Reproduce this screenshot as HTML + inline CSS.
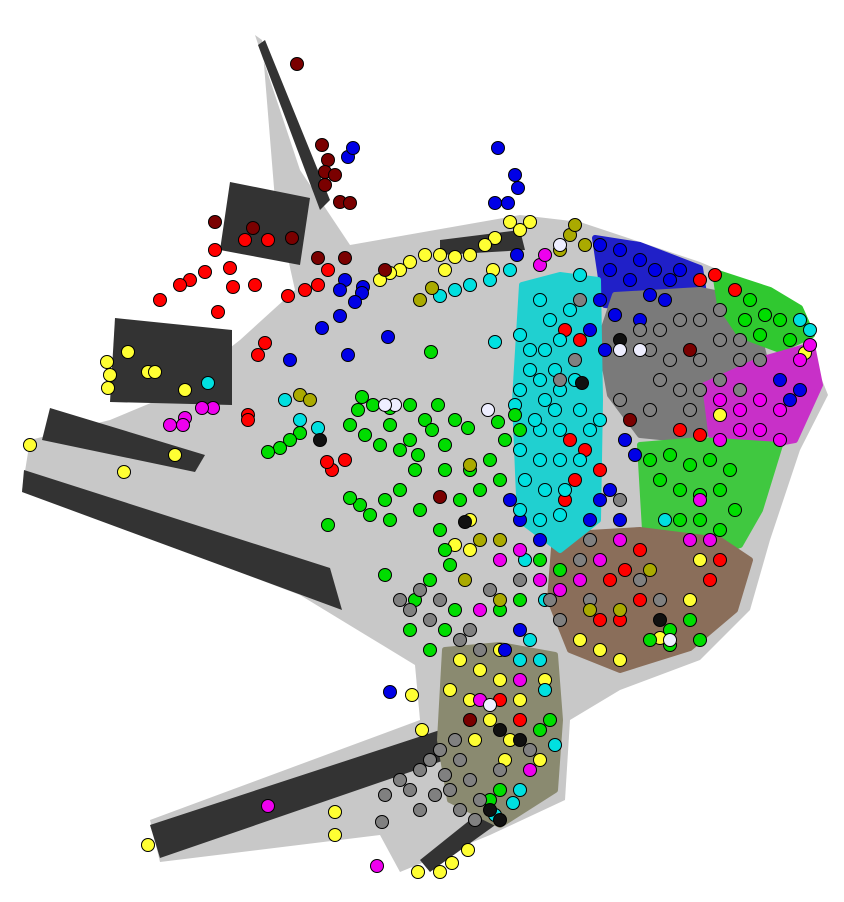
<!DOCTYPE html>
<html><head><meta charset="utf-8"><title>Network graph</title>
<style>html,body{margin:0;padding:0;background:#fff}svg{display:block}</style></head>
<body>
<svg id="chart" width="844" height="902" viewBox="0 0 844 902" xmlns="http://www.w3.org/2000/svg">
<g id="bg">
<polygon fill="#c8c8c8" points="255,35 300,170 350,245 520,215 580,222 700,262 790,300 828,395 800,450 770,540 750,610 700,660 620,690 570,720 565,800 490,835 400,872 380,835 160,862 150,820 420,720 415,665 300,595 22,490 30,440 110,420 170,395 240,340 295,290 275,200 262,40"/>
<polygon fill="#333" points="230,182 310,198 300,265 220,250"/>
<polygon fill="#333" points="115,318 232,330 232,405 110,402"/>
<polygon fill="#333" points="50,408 205,455 195,472 42,440"/>
<polygon fill="#333" points="24,470 330,568 342,610 22,492"/>
<polygon fill="#333" points="150,825 440,730 445,760 160,858"/>
<polygon fill="#333" points="265,40 330,200 320,210 258,45"/>
<polygon fill="#333" points="420,860 520,780 530,800 430,872"/>
<polygon fill="#333" points="440,240 520,230 525,250 440,255"/>
</g>
<g id="patches"></g>
<g id="nodes"></g>
</svg>
<script>
const yellowNodes=[[510,222],[530,222],[495,238],[485,245],[470,255],[455,257],[440,255],[425,255],[410,262],[400,270],[390,273],[380,280],[445,270],[493,270],[520,230],[107,362],[110,375],[108,388],[128,352],[148,372],[155,372],[185,390],[30,445],[124,472],[175,455],[412,695],[422,730],[335,812],[335,835],[148,845],[418,872],[440,872],[452,863],[468,850],[805,353],[720,415],[660,638],[470,520],[460,660],[480,670],[500,680],[470,700],[520,700],[545,680],[500,650],[490,720],[510,740],[540,760],[600,650],[580,640],[620,660],[450,690],[475,740],[505,760],[700,560],[690,600],[470,550],[455,545]];
const redNodes=[[215,250],[245,240],[268,240],[230,268],[205,272],[190,280],[180,285],[160,300],[255,285],[233,287],[218,312],[265,343],[258,355],[288,296],[328,270],[318,285],[305,290],[248,415],[248,420],[345,460],[332,470],[327,462],[565,330],[580,340],[570,440],[585,450],[600,470],[575,480],[565,500],[610,580],[625,570],[640,550],[600,620],[620,620],[700,280],[715,275],[735,290],[680,430],[700,435],[720,560],[710,580],[500,700],[520,720],[640,600]];
const maroonNodes=[[297,64],[322,145],[328,160],[325,172],[335,175],[325,185],[340,202],[350,203],[345,258],[385,270],[440,497],[215,222],[253,228],[292,238],[318,258],[690,350],[630,420],[470,720]];
const blueNodes=[[498,148],[515,175],[518,188],[508,203],[495,203],[348,157],[353,148],[345,280],[363,287],[362,293],[340,290],[355,302],[322,328],[340,316],[348,355],[290,360],[388,337],[390,692],[517,255],[600,245],[620,250],[640,260],[655,270],[670,280],[610,270],[630,280],[650,295],[600,300],[615,315],[640,320],[665,300],[680,270],[590,330],[605,350],[625,440],[635,455],[610,490],[620,520],[600,500],[590,520],[520,520],[540,540],[510,500],[790,400],[780,380],[800,390],[520,630],[505,650]];
const cyanNodes=[[440,296],[455,290],[470,285],[490,280],[510,270],[495,342],[520,335],[540,300],[550,320],[530,350],[545,350],[560,340],[570,310],[580,275],[540,380],[520,390],[515,405],[545,400],[560,390],[575,380],[580,410],[590,430],[560,430],[540,430],[520,450],[540,460],[560,460],[580,460],[525,480],[545,490],[565,490],[520,510],[540,520],[560,515],[600,420],[525,560],[545,600],[530,640],[520,660],[540,660],[520,790],[513,803],[495,815],[545,690],[555,745],[208,383],[285,400],[318,428],[300,420],[530,370],[555,370],[535,420],[555,410],[665,520],[800,320],[810,330]];
const greenNodes=[[431,352],[362,397],[358,410],[373,405],[390,408],[410,405],[438,405],[425,420],[432,430],[445,445],[418,455],[400,450],[380,445],[365,435],[350,425],[390,425],[410,440],[455,420],[468,428],[498,422],[515,415],[520,430],[505,440],[490,460],[470,470],[445,470],[415,470],[400,490],[385,500],[360,505],[350,498],[370,515],[390,520],[420,510],[440,530],[460,500],[480,490],[500,480],[328,525],[300,433],[290,440],[280,448],[268,452],[385,575],[445,550],[450,565],[430,580],[415,600],[410,630],[430,650],[445,630],[455,610],[750,300],[765,315],[780,320],[760,335],[790,340],[745,320],[650,460],[670,455],[690,465],[710,460],[730,470],[660,480],[680,490],[700,495],[720,490],[735,510],[700,520],[680,520],[720,530],[650,640],[670,630],[690,620],[700,640],[670,645],[540,560],[560,570],[500,610],[520,600],[490,800],[500,790],[540,730],[550,720]];
const grayNodes=[[640,330],[660,330],[680,320],[700,320],[720,310],[650,350],[670,360],[700,360],[720,340],[740,340],[660,380],[680,390],[700,390],[720,380],[740,360],[760,360],[580,300],[560,380],[575,360],[620,400],[650,410],[400,600],[410,610],[420,590],[440,600],[430,620],[460,640],[470,630],[480,650],[440,750],[460,760],[420,770],[400,780],[385,795],[382,822],[420,810],[450,790],[470,780],[460,810],[480,800],[500,770],[530,750],[550,600],[560,620],[590,600],[620,500],[640,580],[660,600],[590,540],[490,590],[520,580],[580,560],[740,390],[690,410],[430,760],[445,775],[410,790],[435,795],[475,820],[455,740]];
const magentaNodes=[[213,408],[202,408],[185,418],[183,425],[170,425],[268,806],[377,866],[540,265],[545,255],[720,400],[740,410],[760,400],[780,410],[760,430],[740,430],[720,440],[780,440],[800,360],[810,345],[700,500],[690,540],[710,540],[540,580],[560,590],[580,580],[600,560],[620,540],[480,610],[500,560],[520,550],[480,700],[520,680],[530,770]];
const oliveNodes=[[570,235],[585,245],[560,250],[575,225],[420,300],[432,288],[470,465],[480,540],[500,540],[465,580],[500,600],[590,610],[650,570],[620,610],[300,395],[310,400]];
const darkNodes=[[582,383],[465,522],[320,440],[620,340],[500,730],[520,740],[490,810],[500,820],[660,620]];
const whiteNodes=[[395,405],[385,405],[488,410],[620,350],[640,350],[670,640],[490,705],[560,245]];

const series=[[yellowNodes,'#ffff33'],[redNodes,'#ff0000'],[maroonNodes,'#7a0000'],[blueNodes,'#0000e6'],[cyanNodes,'#00e0e0'],[greenNodes,'#00dd00'],[grayNodes,'#808080'],[magentaNodes,'#ee00ee'],[oliveNodes,'#aaaa00'],[darkNodes,'#111'],[whiteNodes,'#eeeeff']];
const patchPolys=[
 [[595,238],[640,245],[700,268],[705,300],[650,310],[605,305]],
 [[615,295],[700,290],[750,300],[765,360],[745,420],[690,440],[640,435],[610,395],[600,340]],
 [[715,272],[770,290],[800,308],[812,335],[780,350],[740,335],[720,305]],
 [[705,385],[760,360],[812,345],[820,385],[795,440],[740,450],[712,440]],
 [[640,445],[700,440],[780,445],[760,510],[740,545],[690,560],[645,530]],
 [[555,535],[640,530],[720,540],[750,560],[735,610],[690,648],[620,670],[570,650],[550,600]],
 [[522,285],[560,275],[598,280],[600,400],[598,520],[560,550],[520,520],[515,400]],
 [[445,650],[500,645],[555,655],[560,720],[555,790],[500,825],[450,800],[440,740]]
];
const patchColors=['#2020c8','#7a7a7a','#30c830','#c830c8','#40c840','#8a6e5a','#20d0d0','#8a8a70'];
const NS='http://www.w3.org/2000/svg';
const pg=document.getElementById('patches');
patchPolys.forEach((p,i)=>{
 const e=document.createElementNS(NS,'polygon');
 e.setAttribute('points',p.map(q=>q.join(',')).join(' '));
 e.setAttribute('fill',patchColors[i]);
 e.setAttribute('stroke',patchColors[i]);
 e.setAttribute('stroke-width','6');
 e.setAttribute('stroke-linejoin','round');
 
 
 pg.appendChild(e);
});
const g=document.getElementById('nodes');
series.forEach(([arr,col])=>{
 arr.forEach(([x,y])=>{
  const c=document.createElementNS(NS,'circle');
  c.setAttribute('cx',x);c.setAttribute('cy',y);c.setAttribute('r',6.5);
  c.setAttribute('fill',col);c.setAttribute('stroke','#000');c.setAttribute('stroke-width','1');
  
  
  g.appendChild(c);
 });
});
</script>
</body></html>
